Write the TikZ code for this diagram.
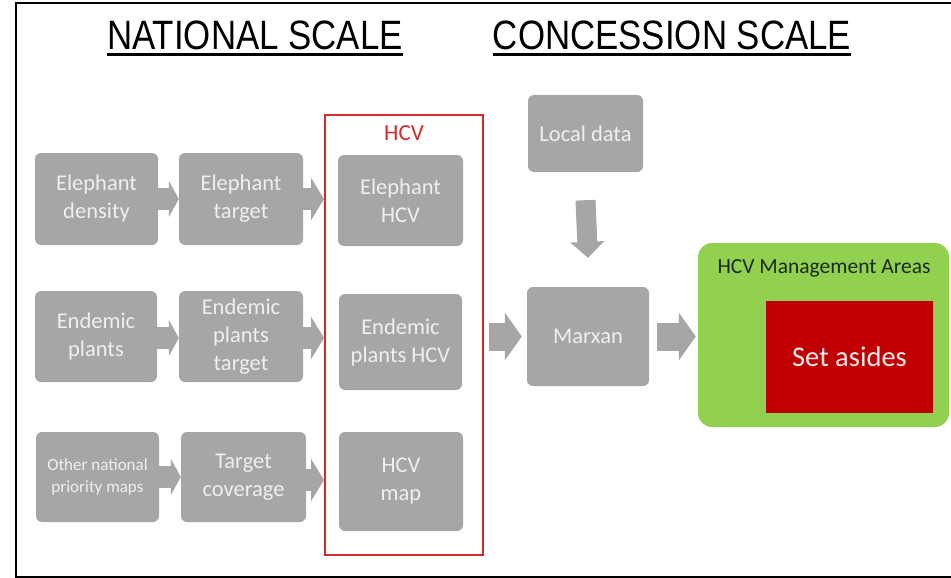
\documentclass[tikz,border=0pt]{standalone}
\usepackage{fontspec}
\setmainfont{Carlito}
\newfontfamily\titlefont{Liberation Sans}
\usetikzlibrary{arrows.meta}
\definecolor{boxgray}{HTML}{A6A6A6}
\definecolor{boxtext}{HTML}{EFEFEF}
\definecolor{hcvred}{HTML}{D42A2A}
\definecolor{greenfill}{HTML}{92D050}
\definecolor{setred}{HTML}{C00000}
\definecolor{darklabel}{HTML}{1B2A12}
\begin{document}
\begin{tikzpicture}[x=1pt,y=-1pt,
  gbox/.style={fill=boxgray, rounded corners=6pt, text=boxtext, align=center, inner sep=0pt,
    font=\fontsize{22.5}{28}\selectfont},
  title/.style={inner sep=0pt, anchor=base, font=\titlefont\fontsize{41}{41}\selectfont},
  uline/.style={line width=3pt, black},
  smallarrow/.style={boxgray, line width=22pt, -{Triangle[length=10pt 0 0, width=36pt 0 0]}},
  midarrow/.style={boxgray, line width=22pt, -{Triangle[length=13pt 0 0, width=42pt 0 0]}},
  bigarrow/.style={boxgray, line width=28pt, -{Triangle[length=17pt 0 0, width=47pt 0 0]}},
  downarrow/.style={boxgray, line width=20pt, -{Triangle[length=16pt 0 0, width=33pt 0 0]}},
  frameline/.style={line width=2pt, black}
]
\useasboundingbox (0,0) rectangle (951,578);
% outer frame
\coordinate (ftl) at (16,3);
\coordinate (ftr) at (952,3);
\coordinate (fbl) at (16,577);
\coordinate (fbr) at (952,577);
\draw[frameline] (ftr) -- (ftl) -- (fbl) -- (fbr);

% titles
\node[title] (nat) at (255,50) {\scalebox{0.85}[1]{NATIONAL SCALE}};
\node[title] (con) at (672,50) {\scalebox{0.85}[1]{CONCESSION SCALE}};
\draw[uline] ([yshift=-5pt]nat.base west) -- ([yshift=-5pt]nat.base east);
\draw[uline] ([yshift=-5pt]con.base west) -- ([yshift=-5pt]con.base east);

% HCV frame
\node[draw=hcvred, line width=2pt, minimum width=158pt, minimum height=440pt, inner sep=0pt] (hcv) at (404,335) {};
\node[text=hcvred, font=\fontsize{23}{27}\selectfont, inner sep=0pt] (hcvlabel) at (404,133) {HCV};

% row 1
\node[gbox, minimum width=123pt, minimum height=92pt] (ed) at (96.5,199) {Elephant\\density};
\node[gbox, minimum width=124pt, minimum height=92pt] (et) at (241,199) {Elephant\\target};
\node[gbox, minimum width=125pt, minimum height=91pt] (eh) at (400.5,200.5) {Elephant\\HCV};
% row 2
\node[gbox, minimum width=122pt, minimum height=91pt] (ep) at (96,336.5) {Endemic\\plants};
\node[gbox, minimum width=124pt, minimum height=91pt] (ept) at (241,336.5) {Endemic\\plants\\target};
\node[gbox, minimum width=123pt, minimum height=96pt] (eph) at (400.5,342) {Endemic\\plants HCV};
% row 3
\node[gbox, minimum width=123pt, minimum height=90pt, font=\fontsize{17}{22}\selectfont] (on) at (97.5,477) {Other national\\priority maps};
\node[gbox, minimum width=125pt, minimum height=90pt] (tc) at (243.5,477) {Target\\coverage};
\node[gbox, minimum width=124pt, minimum height=99pt] (hm) at (401,481.5) {HCV\\map};

% concession scale
\node[gbox, minimum width=115pt, minimum height=77pt] (ld) at (585.5,133.5) {Local data};
\node[gbox, minimum width=122pt, minimum height=99pt] (mx) at (588,336.5) {Marxan};
\node[fill=greenfill, rounded corners=14pt, minimum width=251pt, minimum height=184pt, inner sep=0pt] (ma) at (823.5,335) {};
\node[text=darklabel, font=\fontsize{21.5}{25}\selectfont, inner sep=0pt] (malabel) at (824,268) {HCV Management Areas};
\node[fill=setred, minimum width=167pt, minimum height=112pt, inner sep=0pt, text=white!92!red,
  font=\fontsize{28.5}{33}\selectfont] (sa) at (849.5,357) {Set asides};

% arrows
\draw[smallarrow] (ed.east) -- (et.west);
\draw[smallarrow] (ep.east |- 0,338) -- (ept.west |- 0,338);
\draw[smallarrow] (on.east) -- (tc.west);
\draw[midarrow] (et.east) -- (et.east -| hcv.west);
\draw[midarrow] (ept.east |- 0,338) -- (hcv.west |- 0,338);
\draw[midarrow] (tc.east |- 0,480) -- (hcv.west |- 0,480);
\draw[bigarrow] ([xshift=5pt]hcv.east |- mx.west) -- ([xshift=-5pt]mx.west);
\draw[bigarrow] ([xshift=8pt]mx.east) -- ([xshift=-2pt]ma.west |- mx.east);
\draw[downarrow] ([yshift=-28pt]ld.south) -- ([yshift=29pt]mx.north);
\end{tikzpicture}
\end{document}
